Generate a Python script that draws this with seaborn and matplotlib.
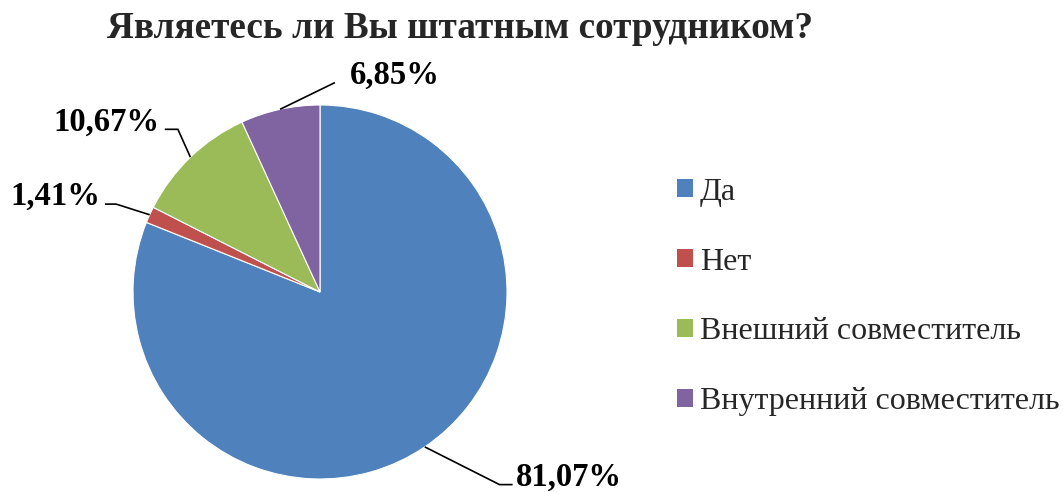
import numpy as np
import seaborn as sns
import matplotlib.pyplot as plt
from matplotlib.patches import Patch

# data
categories = ["Да", "Нет", "Внешний совместитель", "Внутренний совместитель"]
shares = [81.07, 1.41, 10.67, 6.85]
pct_labels = ["81,07%", "1,41%", "10,67%", "6,85%"]
colors = sns.color_palette(["#4F81BD", "#C0504D", "#9BBB59", "#8064A2"])

sns.set_theme(style="white")
plt.rcParams['font.family'] = ['Liberation Serif', 'DejaVu Serif']

fig = plt.figure(figsize=(10.63, 4.92), dpi=100)
# pie centre ~ (320, 292) px, radius ~187 px
ax = fig.add_axes([133 / 1063, 13 / 492, 374 / 1063, 374 / 492])
wedges, _ = ax.pie(shares, colors=colors, startangle=90, counterclock=False,
                   radius=1.0, wedgeprops=dict(edgecolor='white', linewidth=0.8))
ax.set_xlim(-1, 1)
ax.set_ylim(-1, 1)
ax.set_aspect('equal')
ax.axis('off')

# leader lines: elbow and text offsets (in pie radius units)
elbows = [(0.96, -1.03), (-1.09, 0.47), (-0.76, 0.87), (0.08, 1.12)]
ends = [(1.03, -1.03), (-1.15, 0.47), (-0.83, 0.87), (0.08, 1.12)]
text_pos = [(1.05, -0.99), (-1.175, 0.51), (-0.86, 0.91), (0.16, 1.16)]
aligns = ['left', 'right', 'right', 'left']

for w, el, en, tp, ha, lab in zip(wedges, elbows, ends, text_pos, aligns, pct_labels):
    mid = np.deg2rad((w.theta1 + w.theta2) / 2)
    x0, y0 = np.cos(mid), np.sin(mid)
    ax.plot([x0, el[0], en[0]], [y0, el[1], en[1]], color='black', lw=1.2,
            clip_on=False, solid_capstyle='butt')
    ax.text(tp[0], tp[1], lab, ha=ha, va='center', fontsize=23.5,
            fontweight='bold', color='black', clip_on=False,
            family='Liberation Serif')

fig.text(107 / 1063, 1 - 28 / 492, "Являетесь ли Вы штатным сотрудником?",
         ha='left', va='center', fontsize=26.8, fontweight='bold',
         family='Liberation Serif')

handles = [Patch(facecolor=c, edgecolor='none') for c in colors]
fig.legend(handles, categories, loc='center left',
           bbox_to_anchor=(677 / 1063, 1 - 297 / 492), frameon=False,
           prop={'family': 'Liberation Serif', 'size': 23},
           labelspacing=1.28, handlelength=0.5, handleheight=0.5,
           handletextpad=0.22, borderpad=0, borderaxespad=0)

fig.savefig("out.png", dpi=100)
